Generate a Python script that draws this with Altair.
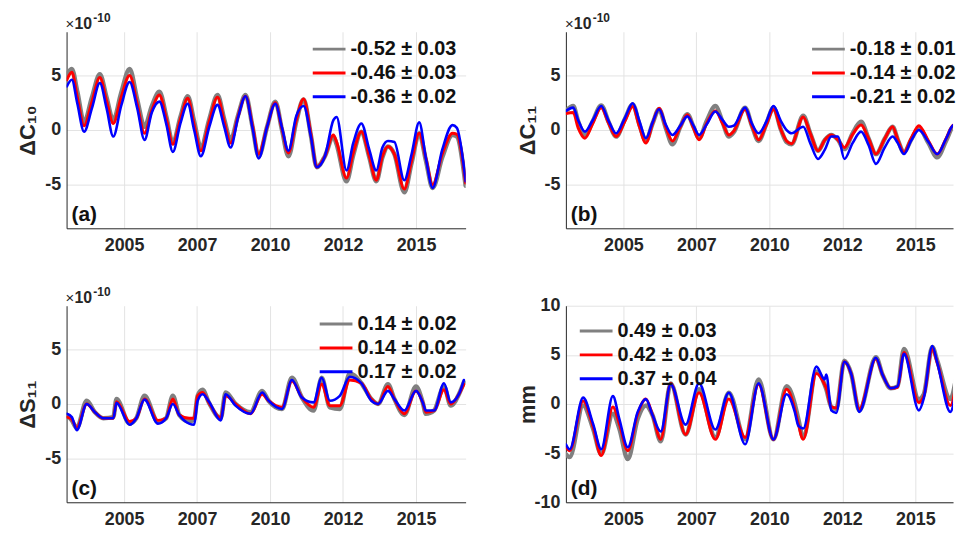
import altair as alt
import pandas as pd

FONT = "Liberation Sans"
INK = "#262626"
GRAY, RED, BLUE = "#808080", "#ff0000", "#0000ff"
XTICKS = [2005, 2007.5, 2010, 2012.5, 2015]

# ---------------- Panel (a)  dC10 (x1e-10) ----------------
t_a = [2003.04, 2003.21, 2003.40, 2003.63, 2003.90, 2004.17, 2004.40, 2004.63, 2004.90, 2005.19,
       2005.45, 2005.70, 2005.95, 2006.21, 2006.45, 2006.67, 2006.93, 2007.18, 2007.40, 2007.63,
       2007.92, 2008.20, 2008.43, 2008.65, 2008.90, 2009.16, 2009.40, 2009.61, 2009.90, 2010.18,
       2010.41, 2010.63, 2010.90, 2011.15, 2011.40, 2011.60, 2011.88, 2012.17, 2012.28, 2012.62,
       2012.85, 2013.13, 2013.40, 2013.64, 2013.85, 2014.04, 2014.26, 2014.60, 2014.85, 2015.11,
       2015.34, 2015.57, 2015.90, 2016.25, 2016.40, 2016.70]
gray_a = [5.1, 5.6, 3.5, 0.7, 3.0, 5.1, 3.0, 0.9, 3.4, 5.6,
          2.8, 0.3, 2.2, 3.5, 1.2, -1.2, 1.2, 3.1, 0.8, -1.6,
          1.0, 3.2, 1.0, -0.9, 1.3, 3.2, 0.3, -2.4, 0.3, 2.6,
          0.0, -2.4, 0.8, 2.8, -0.5, -3.4, -2.4, -0.6, -1.3, -4.7,
          -2.3, -0.15, -2.5, -4.7, -2.5, -1.5, -2.2, -5.7, -3.0, -0.3,
          -2.8, -5.3, -2.5, -0.45, -0.6, -5.1]
red_a = [4.6, 5.3, 3.0, 0.4, 2.6, 4.8, 2.7, 0.6, 3.0, 5.0,
         2.4, -0.3, 1.8, 3.2, 1.0, -1.3, 1.0, 2.9, 0.5, -1.9,
         0.8, 3.0, 0.8, -1.2, 1.2, 3.1, 0.4, -2.2, 0.3, 2.5,
         0.1, -2.1, 0.9, 2.85, -0.4, -3.4, -2.4, -0.45, -1.1, -4.4,
         -2.1, -0.15, -2.4, -4.6, -2.4, -1.5, -2.2, -5.4, -2.8, -0.3,
         -2.6, -5.0, -2.2, -0.3, -0.4, -4.85]
blue_a = [4.0, 4.6, 2.4, -0.15, 2.0, 4.3, 2.0, -0.6, 2.2, 4.4,
          2.0, -0.9, 1.6, 2.6, 0.5, -2.0, 0.6, 2.4, 0.0, -2.4,
          0.3, 2.3, 0.3, -1.6, 1.1, 3.1, 0.2, -2.6, 0.3, 2.4,
          0.2, -1.9, 1.3, 2.2, -0.6, -3.4, -2.4, 0.9, 1.2, -3.7,
          -1.2, 0.6, -1.8, -3.7, -1.6, -1.0, -1.1, -4.6, -2.2, 0.7,
          -2.6, -5.3, -1.8, 0.45, 0.2, -4.7]
leg_a = ["-0.52 ± 0.03", "-0.46 ± 0.03", "-0.36 ± 0.02"]

# ---------------- Panel (b)  dC11 (x1e-10) ----------------
t_b = [2003.03, 2003.28, 2003.45, 2003.68, 2003.95, 2004.24, 2004.50, 2004.75, 2005.05, 2005.32,
       2005.55, 2005.77, 2006.00, 2006.22, 2006.45, 2006.68, 2006.95, 2007.19, 2007.40, 2007.59,
       2007.85, 2008.15, 2008.40, 2008.61, 2008.78, 2009.17, 2009.40, 2009.63, 2009.90, 2010.14,
       2010.40, 2010.59, 2010.76, 2011.16, 2011.40, 2011.67, 2011.90, 2012.12, 2012.35, 2012.57,
       2012.85, 2013.14, 2013.40, 2013.65, 2013.95, 2014.22, 2014.40, 2014.61, 2014.85, 2015.12,
       2015.45, 2015.75, 2016.05, 2016.31, 2016.56, 2016.70]
gray_b = [1.75, 2.2, 0.8, -0.45, 0.8, 2.25, 0.7, -0.6, 1.0, 2.35,
          0.5, -1.0, 0.6, 1.9, 0.2, -1.3, 0.3, 1.45, 0.3, -0.75,
          0.8, 2.2, 0.7, -0.6, -0.2, 2.05, 0.4, -1.0, 0.6, 2.05,
          0.0, -1.1, -1.3, 1.3, -0.3, -1.9, -0.9, -0.45, -0.9, -1.75,
          -0.3, 0.75, -0.8, -2.2, -0.8, 0.3, -0.9, -2.05, -0.9, 0.15,
          -1.2, -2.5, -1.0, 0.3, -1.3, -1.7]
red_b = [1.5, 1.6, 0.2, -0.75, 0.6, 2.05, 0.6, -0.6, 0.8, 2.15,
         0.3, -1.2, 0.6, 2.0, 0.3, -1.0, 0.3, 1.4, 0.2, -0.9,
         0.6, 1.75, 0.6, -0.45, -0.1, 1.9, 0.4, -0.9, 0.5, 1.9,
         0.0, -1.0, -1.25, 1.2, -0.3, -1.9, -0.9, -0.45, -0.9, -1.6,
         -0.4, 0.45, -0.8, -2.2, -0.8, 0.3, -0.9, -2.05, -0.8, 0.4,
         -1.0, -2.2, -0.8, 0.45, -1.3, -1.6]
blue_b = [1.75, 2.05, 0.9, -0.15, 0.9, 2.2, 0.8, -0.3, 1.1, 2.45,
          0.8, -0.75, 0.7, 1.9, 0.5, -0.45, 0.4, 1.25, 0.4, -0.45,
          0.5, 1.7, 0.9, 0.3, 0.4, 2.05, 0.6, -0.3, 0.8, 2.2,
          0.8, 0.0, -0.3, 0.3, -1.2, -2.65, -1.8, -0.6, -0.6, -2.65,
          -1.2, -0.15, -1.4, -3.1, -1.6, -0.6, -1.2, -2.2, -1.0, 0.0,
          -1.1, -2.2, -0.8, 0.45, -1.3, -1.6]
leg_b = ["-0.18 ± 0.01", "-0.14 ± 0.02", "-0.21 ± 0.02"]

# ---------------- Panel (c)  dS11 (x1e-10) ----------------
t_c = [2003.04, 2003.21, 2003.38, 2003.72, 2004.00, 2004.29, 2004.63, 2004.74, 2005.19, 2005.42,
       2005.70, 2006.16, 2006.44, 2006.67, 2006.89, 2007.23, 2007.40, 2007.52, 2007.69, 2007.91,
       2008.31, 2008.48, 2008.82, 2009.33, 2009.73, 2009.95, 2010.41, 2010.75, 2011.09, 2011.49,
       2011.77, 2012.05, 2012.39, 2012.73, 2013.13, 2013.47, 2013.70, 2014.04, 2014.26, 2014.60,
       2015.00, 2015.23, 2015.34, 2015.62, 2015.96, 2016.19, 2016.47, 2016.64]
gray_c = [-1.0, -1.5, -2.2, 0.3, -0.75, -1.3, -1.2, 0.45, -1.8, -1.3,
          0.75, -1.6, -1.3, 0.75, -1.0, -1.6, -1.4, 0.75, 1.3, 0.1,
          -1.3, 1.05, 0.0, -0.75, 1.2, 0.3, -0.45, 2.4, 0.6, -0.6,
          2.4, -0.3, -0.45, 2.8, 1.9, 0.45, 0.0, 1.8, 0.45, -1.0,
          1.6, 0.15, -0.9, -0.6, 1.6, -0.15, 0.9, 2.0]
red_c = [-1.2, -1.4, -2.2, 0.0, -0.75, -1.3, -1.3, 0.2, -1.6, -1.3,
         0.45, -1.5, -1.3, 0.45, -1.0, -1.3, -1.3, 0.75, 1.05, 0.1,
         -1.3, 0.75, 0.0, -0.9, 0.9, 0.3, -0.3, 2.1, 0.6, -0.3,
         1.8, -0.15, -0.15, 2.2, 1.9, 0.45, 0.0, 1.6, 0.45, -0.9,
         1.2, 0.15, -0.75, -0.6, 1.3, 0.0, 0.9, 1.8]
blue_c = [-0.9, -1.2, -2.4, 0.0, -0.75, -1.3, -1.3, 0.1, -1.9, -1.3,
          0.4, -1.8, -1.3, 0.0, -1.0, -1.8, -1.9, 0.3, 0.9, 0.2,
          -1.5, 0.9, -0.15, -0.9, 1.05, 0.3, -0.45, 2.2, 0.6, 0.15,
          2.4, 0.3, 0.75, 2.5, 1.9, 0.3, 0.0, 1.2, 0.45, -0.6,
          1.2, 0.15, -0.6, -0.6, 1.9, 0.15, 0.9, 2.2]
leg_c = ["0.14 ± 0.02", "0.14 ± 0.02 ", "0.17 ± 0.02"]

# ---------------- Panel (d)  mm ----------------
t_d = [2003.03, 2003.16, 2003.62, 2003.96, 2004.24, 2004.64, 2004.86, 2005.15, 2005.49, 2005.77,
       2006.00, 2006.28, 2006.62, 2007.13, 2007.59, 2008.15, 2008.61, 2009.17, 2009.63, 2010.14,
       2010.59, 2010.87, 2010.99, 2011.16, 2011.61, 2011.89, 2011.95, 2012.12, 2012.29, 2012.57,
       2012.80, 2013.08, 2013.65, 2013.88, 2014.16, 2014.39, 2014.61, 2015.12, 2015.29, 2015.58,
       2015.75, 2016.20, 2016.56, 2016.70]
gray_d = [-5.1, -5.4, -0.15, -2.5, -5.1, -1.0, -2.5, -5.6, -1.5, -0.15,
          -1.15, -3.8, 2.1, -3.1, 1.5, -3.4, 1.15, -3.6, 2.5, -3.6,
          1.8, 0.0, -1.5, -3.4, 3.3, 2.0, 1.5, -0.3, -0.5, 4.4,
          3.1, -0.65, 4.75, 2.95, 1.6, 1.8, 5.6, 0.5, 1.0, 5.8,
          4.4, 0.5, 4.4, 4.5]
red_d = [-4.4, -4.75, 0.3, -2.3, -5.25, -0.3, -2.0, -4.75, -1.0, 0.5,
         -1.15, -3.6, 2.1, -3.1, 1.15, -3.6, 0.5, -3.4, 2.0, -3.6,
         1.5, -0.5, -2.0, -3.6, 3.1, 2.0, 1.6, -0.3, -0.4, 4.3,
         3.1, -0.5, 4.6, 2.95, 1.6, 1.7, 5.25, 0.15, 0.8, 5.6,
         4.2, -0.15, 4.1, 4.3]
blue_d = [-4.1, -4.6, 0.65, -2.0, -4.6, 0.8, -1.5, -4.4, -0.8, 0.5,
          -1.15, -2.8, 2.0, -2.1, 2.1, -2.6, 1.15, -4.1, 2.1, -3.6,
          1.0, -0.8, -2.2, -2.5, 3.8, 2.5, 3.0, -0.65, -0.9, 4.3,
          3.1, -0.8, 4.7, 2.95, 1.6, 1.8, 5.1, -0.65, 0.6, 5.9,
          4.2, -0.8, 3.8, 4.0]
leg_d = ["0.49 ± 0.03", "0.42 ± 0.03", "0.37 ± 0.04"]

W_L, W_R, H = 402, 390, 198
XDOM_L = [2003.03, 2016.70]
XDOM_R = [2003.03, 2016.29]


def panel(t, ys, labels, ydom, yticks, ytitle, xdom, width, tag, legx, legy, sci):
    cscale = alt.Scale(domain=labels, range=[GRAY, RED, BLUE])
    legend = alt.Legend(
        orient="none", legendX=legx, legendY=legy, title=None,
        symbolType="M-1.5,0L1.5,0", symbolSize=484, symbolStrokeWidth=3,
        labelFont=FONT, labelFontSize=20, labelFontWeight="bold",
        labelColor="#111111", labelOffset=9, rowPadding=1, padding=0,
    )
    x = alt.X("t:Q", scale=alt.Scale(domain=xdom, nice=False, zero=False),
              axis=alt.Axis(values=XTICKS, labelExpr="floor(datum.value)",
                            title=None, labelPadding=8))
    y = alt.Y("v:Q", scale=alt.Scale(domain=ydom, nice=False, zero=False),
              axis=alt.Axis(values=yticks, labelExpr="toString(datum.value)",
                            title=ytitle, titleX=-27))
    layers = []
    for vals, lab, sw in zip(ys, labels, [4.5, 3.0, 2.6]):
        df = pd.DataFrame({"t": t, "v": vals, "s": lab})
        layers.append(
            alt.Chart(df).mark_line(strokeWidth=sw, clip=True, interpolate="monotone",
                                    strokeJoin="round", strokeCap="round")
            .encode(x=x, y=y, color=alt.Color("s:N", scale=cscale, legend=legend))
        )
    lab_df = pd.DataFrame({"lab": [tag]})
    layers.append(
        alt.Chart(lab_df).mark_text(align="left", baseline="middle", font=FONT,
                                    fontSize=21, fontWeight="bold", color="#111111")
        .encode(x=alt.value(5), y=alt.value(H - 13), text="lab:N")
    )
    if sci:
        layers.append(
            alt.Chart(pd.DataFrame({"lab": ["×"]})).mark_text(
                align="left", baseline="alphabetic", font=FONT, fontSize=15,
                fontWeight="normal", color=INK)
            .encode(x=alt.value(-1), y=alt.value(-3), text="lab:N"))
        layers.append(
            alt.Chart(pd.DataFrame({"lab": ["10"]})).mark_text(
                align="left", baseline="alphabetic", font=FONT, fontSize=16,
                fontWeight="bold", color=INK)
            .encode(x=alt.value(8), y=alt.value(-3), text="lab:N"))
        layers.append(
            alt.Chart(pd.DataFrame({"lab": ["-10"]})).mark_text(
                align="left", baseline="alphabetic", font=FONT, fontSize=12,
                fontWeight="bold", color=INK)
            .encode(x=alt.value(27), y=alt.value(-10), text="lab:N"))
    return alt.layer(*layers).properties(width=width, height=H)


pa = panel(t_a, [gray_a, red_a, blue_a], leg_a, [-9, 9], [-5, 0, 5], "ΔC₁₀",
           XDOM_L, W_L, "(a)", 252, 5, True)
pb = panel(t_b, [gray_b, red_b, blue_b], leg_b, [-9, 9], [-5, 0, 5], "ΔC₁₁",
           XDOM_R, W_R, "(b)", 252, 5, True)
pc = panel(t_c, [gray_c, red_c, blue_c], leg_c, [-9, 9], [-5, 0, 5], "ΔS₁₁",
           XDOM_L, W_L, "(c)", 259, 6, True)
pd_ = panel(t_d, [gray_d, red_d, blue_d], leg_d, [-10, 10], [-10, -5, 0, 5, 10], "mm",
            XDOM_R, W_R, "(d)", 18, 13, False)

chart = (
    alt.concat(pa, pb, pc, pd_, columns=2, spacing={"row": 78, "column": 101}, bounds="flush")
    .resolve_scale(color="independent")
    .properties(padding={"left": 9, "top": 2, "right": 0, "bottom": 0}, background="white")
    .configure_view(stroke=None)
    .configure_axis(
        domainColor=INK, domainWidth=1, ticks=False, grid=True, gridColor="#e3e3e3",
        gridWidth=1, labelFont=FONT, labelFontSize=18, labelFontWeight="bold",
        labelColor=INK, titleFont=FONT, titleFontSize=22, titleFontWeight="bold",
        titleColor=INK, labelPadding=6,
    )
)

chart.save("out.html", embed_options={"renderer": "svg", "actions": False})
